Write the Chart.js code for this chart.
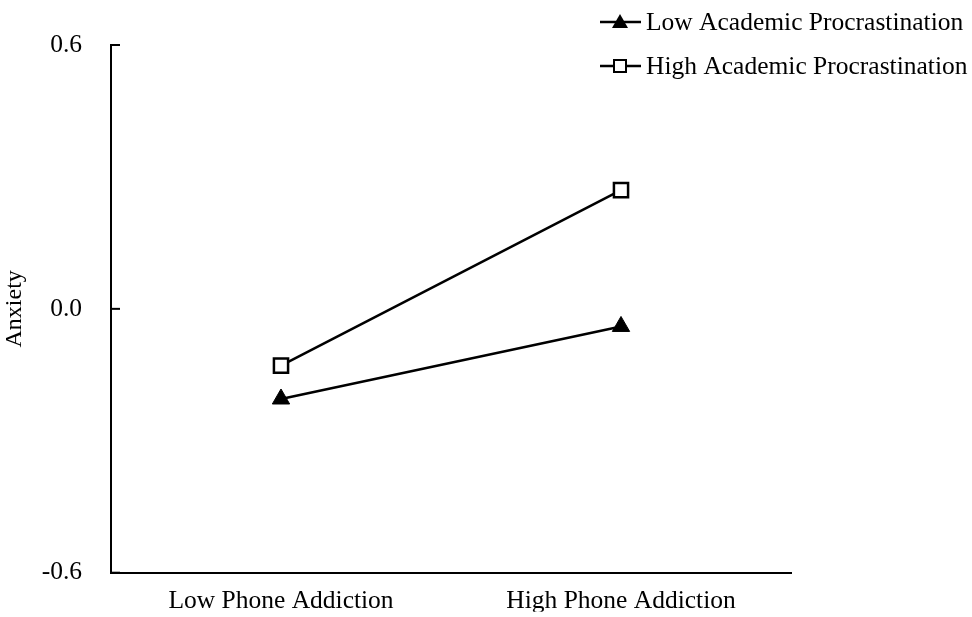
<!DOCTYPE html>
<html>
<head>
<meta charset="utf-8">
<script src="https://cdn.jsdelivr.net/npm/chart.js@4"></script>
<style>
  html, body { margin: 0; padding: 0; background: #fff; overflow: hidden; }
  canvas { display: block; }
</style>
</head>
<body>
<canvas id="anxietyChart" width="972" height="617"></canvas>
<script>
// categories on the x axis
const categories = ["Low Phone Addiction", "High Phone Addiction"];
// series values
const lowProcrastination = [-0.205, -0.04];
const highProcrastination = [-0.129, 0.27];
const seriesLabels = ["Low Academic Procrastination", "High Academic Procrastination"];
const yTicks = [-0.6, 0.0, 0.6];

const FONT = "'Liberation Serif', 'Times New Roman', serif";

// inward tick marks on the y axis + custom line/marker legend
const extras = {
  id: "extras",
  afterDraw(chart) {
    const ctx = chart.ctx;
    const y = chart.scales.y;
    ctx.save();
    ctx.strokeStyle = "#000";
    ctx.lineWidth = 2;
    yTicks.forEach(v => {
      const py = y.getPixelForValue(v);
      ctx.beginPath();
      ctx.moveTo(y.right, py);
      ctx.lineTo(y.right + 9, py);
      ctx.stroke();
    });

    // legend, top right
    const rows = [22, 66];
    chart.data.datasets.forEach((ds, i) => {
      const ly = rows[i];
      ctx.lineWidth = 2.5;
      ctx.beginPath();
      ctx.moveTo(600, ly);
      ctx.lineTo(641, ly);
      ctx.stroke();
      if (ds.pointStyle === "triangle") {
        ctx.beginPath();
        ctx.moveTo(620, ly - 8);
        ctx.lineTo(628, ly + 6);
        ctx.lineTo(612, ly + 6);
        ctx.closePath();
        ctx.fillStyle = "#000";
        ctx.fill();
      } else {
        ctx.lineWidth = 2;
        ctx.fillStyle = "#fff";
        ctx.fillRect(614, ly - 6, 12, 12);
        ctx.strokeRect(614, ly - 6, 12, 12);
      }
      ctx.fillStyle = "#000";
      ctx.font = "25.5px " + FONT;
      ctx.textBaseline = "middle";
      ctx.textAlign = "left";
      ctx.fillText(ds.label, 646, ly + 1);
    });
    ctx.restore();
  }
};

new Chart(document.getElementById("anxietyChart"), {
  type: "line",
  data: {
    labels: categories,
    datasets: [
      {
        label: seriesLabels[0],
        data: lowProcrastination,
        borderColor: "#000",
        borderWidth: 2.5,
        pointStyle: "triangle",
        pointRadius: 10,
        pointBackgroundColor: "#000",
        pointBorderColor: "#000",
        pointBorderWidth: 1,
      },
      {
        label: seriesLabels[1],
        data: highProcrastination,
        borderColor: "#000",
        borderWidth: 2.5,
        pointStyle: "rect",
        pointRadius: 10,
        pointBackgroundColor: "#fff",
        pointBorderColor: "#000",
        pointBorderWidth: 2.5,
      },
    ],
  },
  options: {
    responsive: false,
    animation: false,
    layout: { padding: { top: 45, right: 181, left: 0, bottom: 0 } },
    plugins: { legend: { display: false }, tooltip: { enabled: false } },
    scales: {
      x: {
        offset: true,
        grid: { display: false, drawTicks: false },
        border: { color: "#000", width: 2 },
        ticks: { color: "#000", padding: 13, font: { family: FONT, size: 25.5 } },
        afterFit(scale) { scale.height = 39; },
      },
      y: {
        min: -0.6,
        max: 0.6,
        afterBuildTicks(scale) { scale.ticks = yTicks.map(v => ({ value: v })); },
        grid: { display: false, drawTicks: false },
        border: { color: "#000", width: 2 },
        ticks: {
          color: "#000",
          padding: 29,
          font: { family: FONT, size: 25.5 },
          callback: v => v.toFixed(1),
        },
        title: {
          display: true,
          text: "Anxiety",
          color: "#000",
          font: { family: FONT, size: 24 },
          padding: { top: 0, bottom: 0 },
        },
        afterFit(scale) { scale.width = 111; },
      },
    },
  },
  plugins: [extras],
});
</script>
</body>
</html>
